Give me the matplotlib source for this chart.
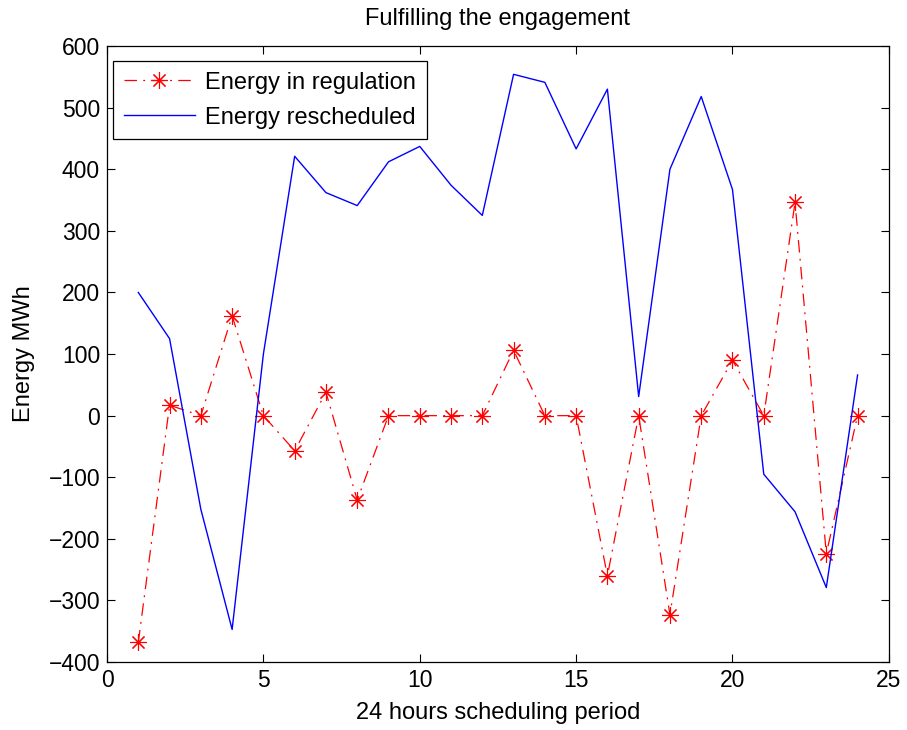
import matplotlib
matplotlib.use("Agg")
import matplotlib.pyplot as plt

hours = list(range(1, 25))
energy_regulation = [-368, 17, 0, 162, 0, -57, 38, -137, 0, 0, 0, 0,
                     106, 0, 0, -260, 0, -323, 0, 90, 0, 346, -224, 0]
energy_rescheduled = [200, 125, -152, -347, 100, 421, 362, 341, 412, 437, 374, 325,
                      554, 541, 433, 530, 31, 400, 518, 367, -95, -156, -279, 66]
xticks = [0, 5, 10, 15, 20, 25]
yticks = [-400, -300, -200, -100, 0, 100, 200, 300, 400, 500, 600]

plt.rcParams['font.family'] = ['Liberation Sans', 'DejaVu Sans']

fig = plt.figure(figsize=(9.07, 7.30), dpi=100)
ax = fig.add_axes([0.118, 0.093, 0.862, 0.844])

ax.plot(hours, energy_regulation, color='red', linestyle=(0, (10, 5, 1.5, 5)), linewidth=0.9,
        marker=(8, 2, 0), markersize=12, markeredgewidth=0.8, label='Energy in regulation')
ax.plot(hours, energy_rescheduled, color='blue', linestyle='-', linewidth=1.0,
        label='Energy rescheduled')

ax.set_xlim(0, 25)
ax.set_ylim(-400, 600)
ax.set_xticks(xticks)
ax.set_yticks(yticks)
ax.tick_params(direction='in', top=True, right=True, labelsize=16.5, length=6, width=0.8, pad=5)
for s in ax.spines.values():
    s.set_linewidth(0.9)

ax.set_xlabel('24 hours scheduling period', fontsize=17, labelpad=7)
ax.set_ylabel('Energy MWh', fontsize=17, labelpad=10)
ax.set_title('Fulfilling the engagement', fontsize=17, pad=15)

leg = ax.legend(loc='upper left', bbox_to_anchor=(0.0077, 0.9756), borderaxespad=0,
                fontsize=17, fancybox=False, framealpha=1, edgecolor='black',
                handlelength=3.0, handletextpad=0.45, labelspacing=0.55, borderpad=0.45)
leg.get_frame().set_linewidth(0.9)

fig.savefig('out.png', dpi=100)
